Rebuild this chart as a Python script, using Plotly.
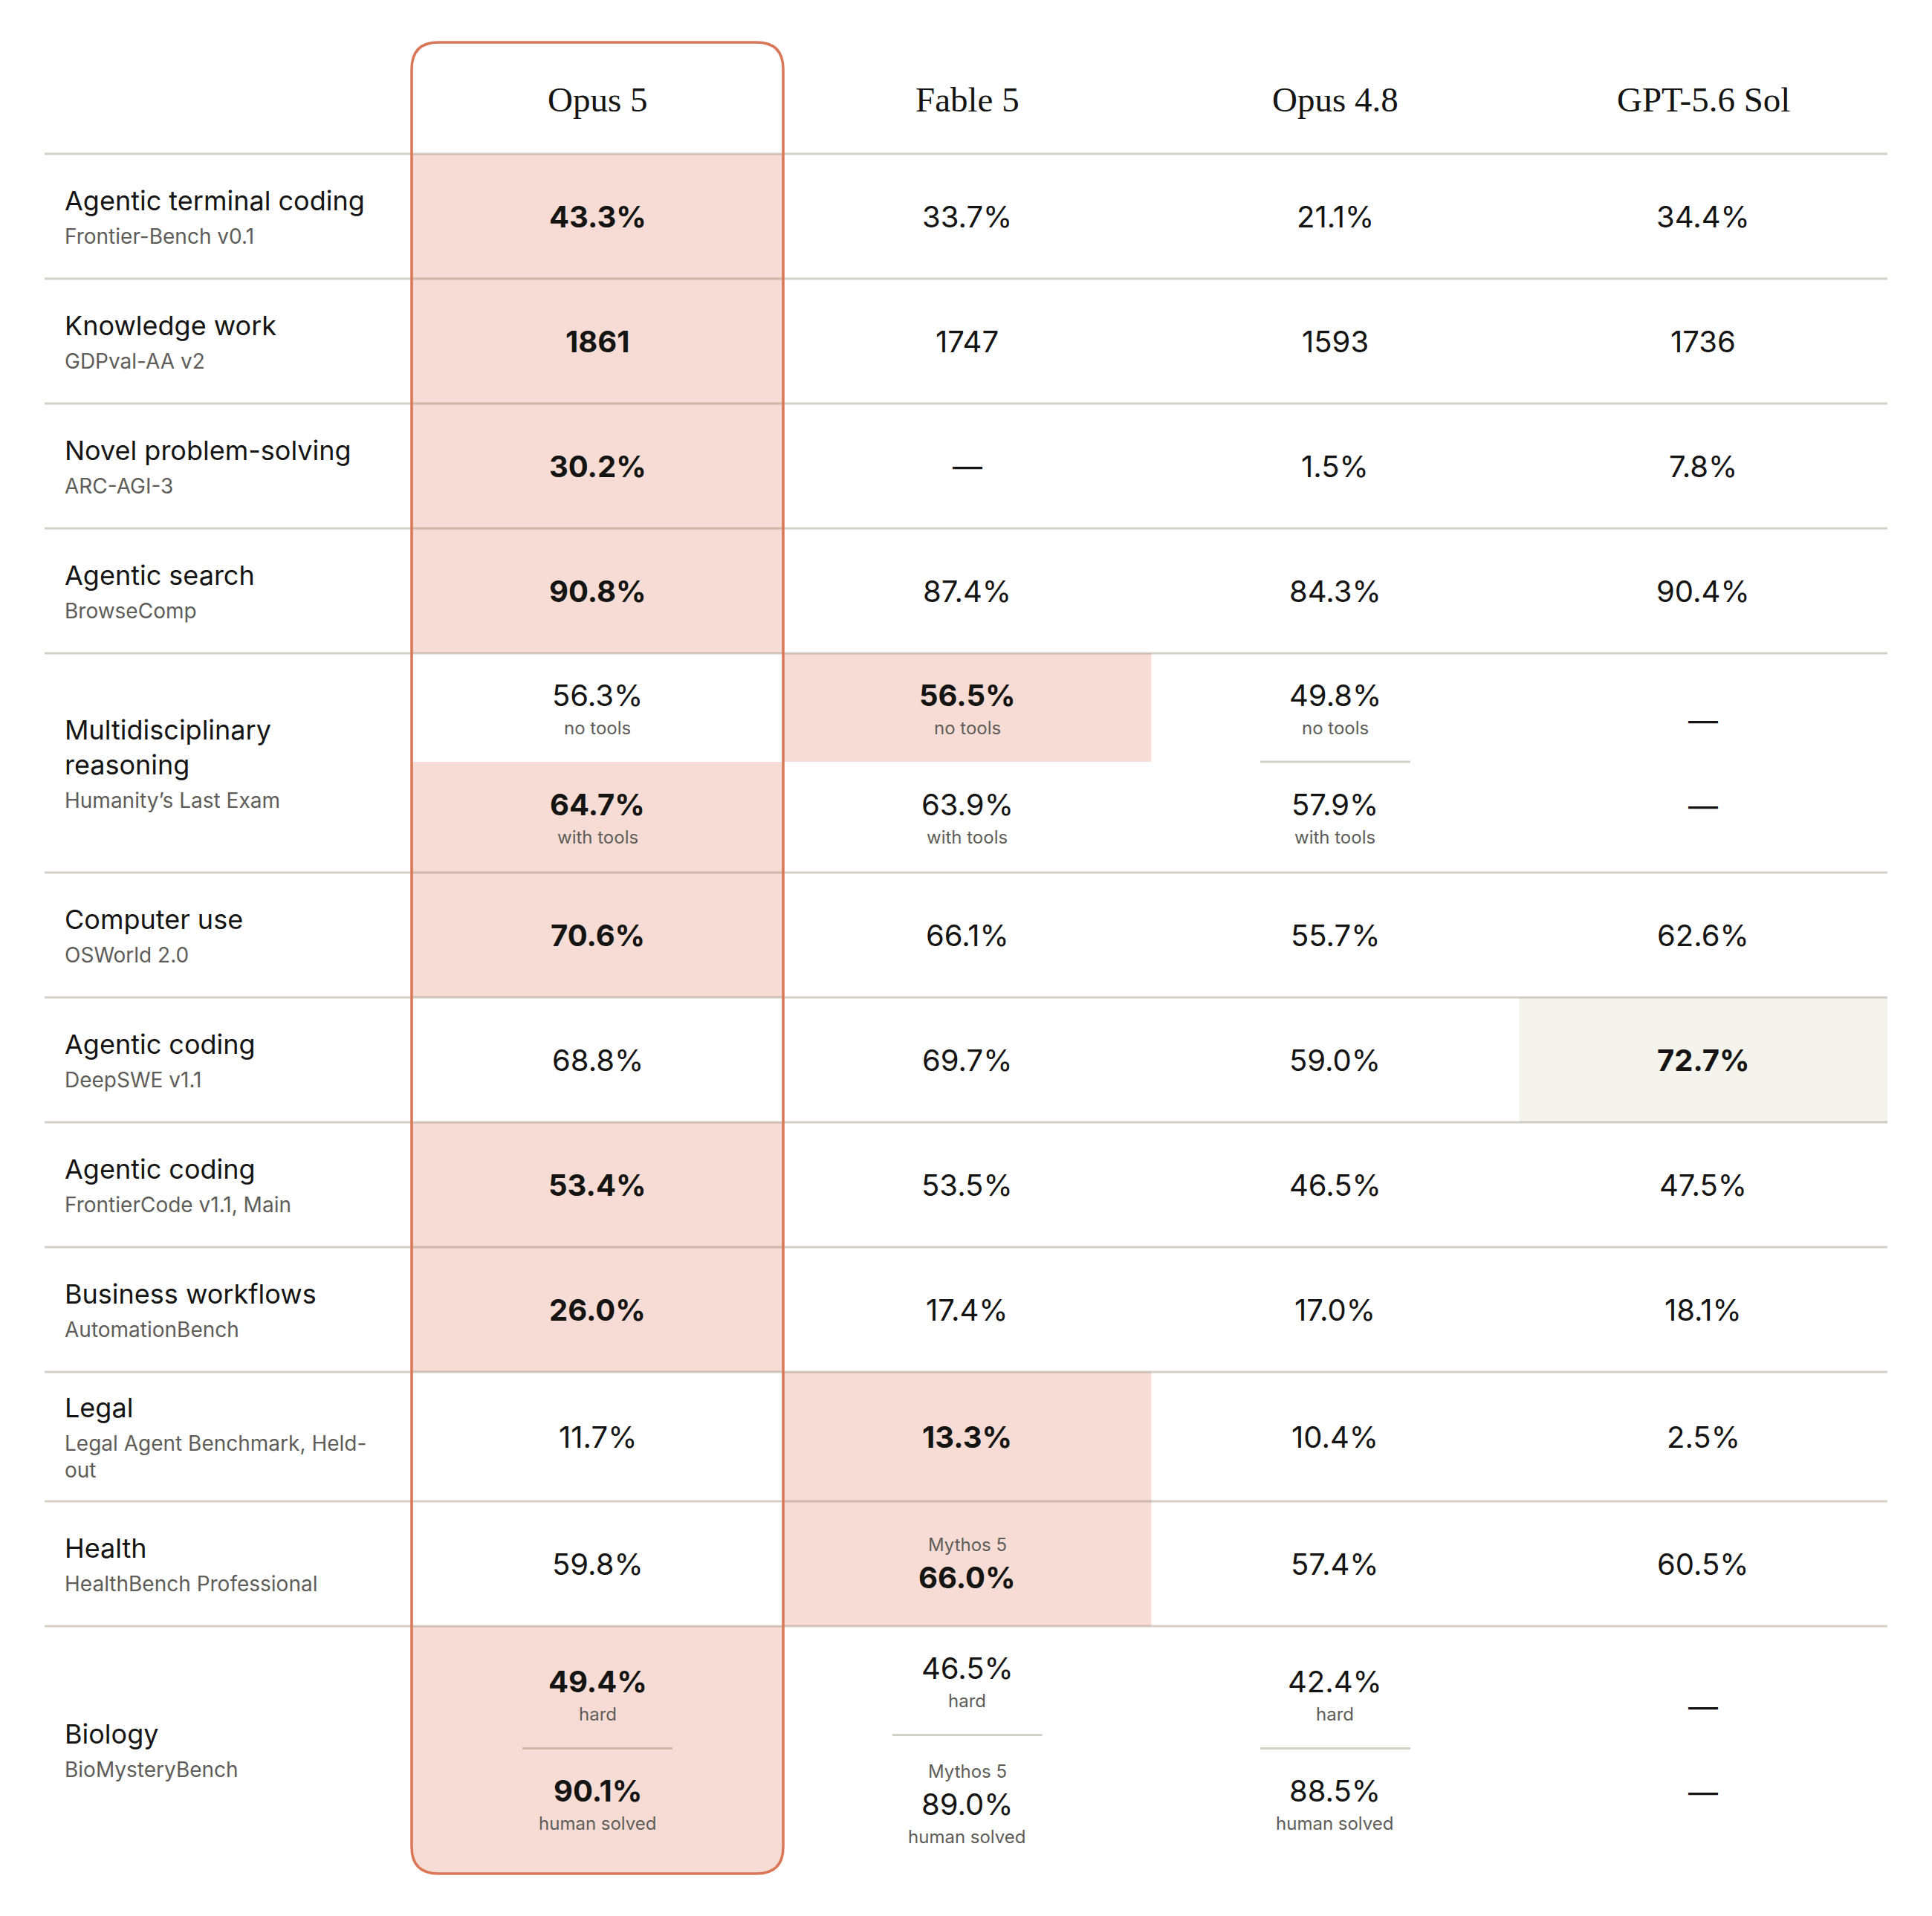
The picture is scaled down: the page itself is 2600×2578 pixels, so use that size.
import plotly.graph_objects as go

# ---- data ----
models = ["Opus 5", "Fable 5", "Opus 4.8", "GPT-5.6 Sol"]
tasks = [
    "Agentic terminal coding", "Knowledge work", "Novel problem-solving", "Agentic search",
    "Multidisciplinary\nreasoning", "Computer use", "Agentic coding", "Agentic coding",
    "Business workflows", "Legal", "Health", "Biology",
]
benchmarks = [
    "Frontier-Bench v0.1", "GDPval-AA v2", "ARC-AGI-3", "BrowseComp",
    "Humanity’s Last Exam", "OSWorld 2.0", "DeepSWE v1.1", "FrontierCode v1.1, Main",
    "AutomationBench", "Legal Agent Benchmark, Held-\nout", "HealthBench Professional",
    "BioMysteryBench",
]
# settings shown under a score, per row (empty = none)
settings = [[""], [""], [""], [""], ["no tools", "with tools"], [""], [""], [""], [""],
            [""], [""], ["hard", "human solved"]]

opus5 = [["43.3%"], ["1861"], ["30.2%"], ["90.8%"], ["56.3%", "64.7%"], ["70.6%"],
         ["68.8%"], ["53.4%"], ["26.0%"], ["11.7%"], ["59.8%"], ["49.4%", "90.1%"]]
fable5 = [["33.7%"], ["1747"], ["—"], ["87.4%"], ["56.5%", "63.9%"], ["66.1%"],
          ["69.7%"], ["53.5%"], ["17.4%"], ["13.3%"], ["66.0%"], ["46.5%", "89.0%"]]
opus48 = [["21.1%"], ["1593"], ["1.5%"], ["84.3%"], ["49.8%", "57.9%"], ["55.7%"],
          ["59.0%"], ["46.5%"], ["17.0%"], ["10.4%"], ["57.4%"], ["42.4%", "88.5%"]]
gpt56 = [["34.4%"], ["1736"], ["7.8%"], ["90.4%"], ["—", "—"], ["62.6%"],
         ["72.7%"], ["47.5%"], ["18.1%"], ["2.5%"], ["60.5%"], ["—", "—"]]
scores = [opus5, fable5, opus48, gpt56]

# best model (column index) per row and setting
best = [[0], [0], [0], [0], [1, 0], [0], [3], [0], [0], [1], [1], [0, 0]]
# (row, model, setting) scores reported with Mythos 5
mythos = [(10, 1, 0), (11, 1, 1)]

# ---- layout ----
W, H = 2600, 2578
PAGE = 8  # browser body margin around the plot
left, label_w = 60, 494
col_w = [500, 495.3, 495.3, 495.3]
box_top, head_bottom = 57, 207
row_h = [168, 168, 168, 168, 295, 168, 168, 168, 168, 174, 168, 332]
right = left + label_w + sum(col_w)

INK = "#141413"
GREY = "#5e5d59"
LINE = "rgba(120,112,84,0.33)"
CLAY = "#d97757"
PINK = "#f6dcd4"
PAPER = "#f4f3ec"
SANS = "Inter"
SERIF = "Liberation Serif"

col_x0 = [left + label_w + sum(col_w[:i]) for i in range(len(models))]
col_x1 = [x + w for x, w in zip(col_x0, col_w)]
col_cx = [(a + b) / 2 for a, b in zip(col_x0, col_x1)]
row_y0 = [head_bottom + sum(row_h[:i]) for i in range(len(row_h))]
row_y1 = [y + h for y, h in zip(row_y0, row_h)]
box_bottom = row_y1[-1] + 1

shapes, annos = [], []


def text(x, y, s, size, color=INK, bold=False, xanchor="center", family=SANS):
    annos.append(dict(x=x, y=y, text=s, showarrow=False, xanchor=xanchor, yanchor="middle",
                      font=dict(family=family, size=size, color=color,
                                weight="bold" if bold else "normal")))


def rounded(x0, y0, x1, y1, r, top=True, bottom=True):
    p = f"M {x0},{y0 + (r if top else 0)} "
    p += f"Q {x0},{y0} {x0 + r},{y0} L {x1 - r},{y0} Q {x1},{y0} {x1},{y0 + r} " if top else f"L {x1},{y0} "
    p += f"L {x1},{y1 - (r if bottom else 0)} "
    p += f"Q {x1},{y1} {x1 - r},{y1} L {x0 + r},{y1} Q {x0},{y1} {x0},{y1 - r} Z" if bottom else f"L {x0},{y1} Z"
    return p


def stack(row, col):
    """vertical centres of the lines in one cell, plus divider positions"""
    items, y = [], 0.0
    vals = scores[col][row]
    for k, v in enumerate(vals):
        if k > 0:
            y += 46 if v != "—" else 58
            items.append(("div", y))
            y += 49 if (row, col, k) in mythos else 57
        if (row, col, k) in mythos:
            items.append(("pre", y))
            y += 44
        items.append(("val", y))
        if v != "—" and settings[row][k]:
            y += 44
            items.append(("note", y))
    half = {"val": 20, "pre": 12, "note": 12, "div": 0}
    top = items[0][1] - half[items[0][0]]
    bot = items[-1][1] + half[items[-1][0]]
    shift = (row_y0[row] + row_y1[row]) / 2 - (top + bot) / 2
    return [(kind, y + shift) for kind, y in items]


# highlight fills
for r in range(len(tasks)):
    for c in range(len(models)):
        lines = stack(r, c)
        divs = [y for kind, y in lines if kind == "div"]
        edges = [row_y0[r]] + divs + [row_y1[r]]
        for k in range(len(scores[c][r])):
            if best[r][k] != c:
                continue
            fill = PAPER if c == 3 else PINK
            x0, x1 = col_x0[c], col_x1[c]
            y0, y1 = edges[k], edges[k + 1]
            if c == 0 and r == len(tasks) - 1:
                shapes.append(dict(type="path", path=rounded(x0, y0, x1, box_bottom, 36, top=False),
                                   fillcolor=fill, line=dict(width=0), layer="below"))
            else:
                shapes.append(dict(type="rect", x0=x0, x1=x1, y0=y0, y1=y1,
                                   fillcolor=fill, line=dict(width=0), layer="below"))

# row rules
for y in [head_bottom] + row_y1[:-1]:
    shapes.append(dict(type="line", x0=left, x1=right, y0=y, y1=y, line=dict(color=LINE, width=3)))

# header
for c, m in enumerate(models):
    text(col_cx[c], 134, m, 47, family=SERIF)

# row labels
for r in range(len(tasks)):
    t_lines = tasks[r].split("\n")
    b_lines = benchmarks[r].split("\n")
    ys, y = [], 0.0
    for i in range(len(t_lines)):
        ys.append(y)
        y += 47
    y = ys[-1] + 48
    for i in range(len(b_lines)):
        ys.append(y)
        y += 36
    top, bot = ys[0] - 18, ys[-1] + 13
    shift = (row_y0[r] + row_y1[r]) / 2 - (top + bot) / 2
    for i, s in enumerate(t_lines):
        text(left + 25, ys[i] + shift, s, 36, xanchor="left")
    for j, s in enumerate(b_lines):
        text(left + 25, ys[len(t_lines) + j] + shift, s, 28, color=GREY, xanchor="left")

# cells
for r in range(len(tasks)):
    for c in range(len(models)):
        vals = scores[c][r]
        k = 0
        for kind, y in stack(r, c):
            if kind == "pre":
                text(col_cx[c], y, "Mythos 5", 24, color=GREY)
            elif kind == "val":
                v = vals[k]
                text(col_cx[c], y, v, 40, bold=(best[r][k] == c and v != "—"))
            elif kind == "note":
                text(col_cx[c], y, settings[r][k], 24, color=GREY)
                k += 1
                continue
            elif kind == "div":
                same = (best[r][k - 1] == c) == (best[r][k] == c)
                if same and vals[k] != "—":
                    shapes.append(dict(type="line", x0=col_cx[c] - 101, x1=col_cx[c] + 101, y0=y, y1=y,
                                       line=dict(color=LINE, width=3)))
            if kind == "val" and not (vals[k] != "—" and settings[r][k]):
                k += 1

# outline of the leading model column
shapes.append(dict(type="path", path=rounded(col_x0[0], box_top, col_x1[0], box_bottom, 36),
                   line=dict(color=CLAY, width=3.5), fillcolor="rgba(0,0,0,0)"))

fig = go.Figure()
fig.update_layout(
    width=W, height=H,
    margin=dict(l=0, r=0, t=0, b=0),
    plot_bgcolor="white", paper_bgcolor="white",
    xaxis=dict(range=[PAGE, W + PAGE], visible=False, fixedrange=True),
    yaxis=dict(range=[H + PAGE, PAGE], visible=False, fixedrange=True),
    shapes=shapes, annotations=annos, showlegend=False,
)
fig.write_html("out.html")
